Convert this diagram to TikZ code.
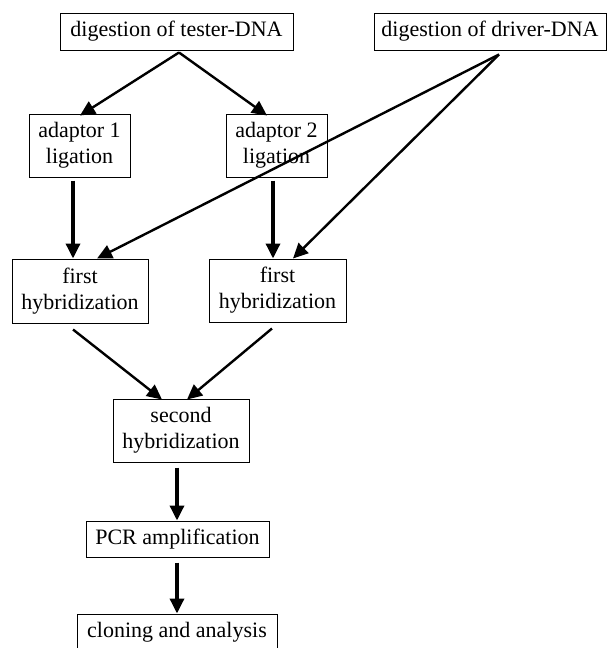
\documentclass[tikz,border=0pt]{standalone}
\usepackage{fontspec}
\setmainfont{Liberation Serif}
\usetikzlibrary{arrows.meta}
\begin{document}
\begin{tikzpicture}[x=1pt,y=-1pt,
  box/.style={draw=black,line width=1pt,inner sep=0pt,align=center,
    font=\fontsize{22}{26}\selectfont},
  arr/.style={line width=2.4pt,-{Triangle[length=15pt,width=14pt]}},
  varr/.style={line width=3.4pt,-{Triangle[length=15pt,width=14pt]}}]
\useasboundingbox (0,0) rectangle (607,648);
\clip (0,0) rectangle (607,648);
\node[box,minimum width=233pt,minimum height=37pt] (tester) at (176.5,31.5) {digestion of tester-DNA};
\node[box,minimum width=232pt,minimum height=37pt] (driver) at (490,31.5) {digestion of driver-DNA};
\node[box,minimum width=101pt,minimum height=63pt] (ad1) at (79.5,145.5) {adaptor 1\\ligation};
\node[box,minimum width=101pt,minimum height=63pt] (ad2) at (276.5,145.5) {adaptor 2\\ligation};
\node[box,minimum width=136pt,minimum height=64pt] (fh1) at (80,291) {first\\hybridization};
\node[box,minimum width=137pt,minimum height=63pt] (fh2) at (277.5,290.5) {first\\hybridization};
\node[box,minimum width=136pt,minimum height=63pt] (sh) at (181,430.5) {second\\hybridization};
\node[box,minimum width=183pt,minimum height=36pt] (pcr) at (177.5,539) {PCR amplification};
\node[box,minimum width=200pt,minimum height=37pt] (clone) at (177,632.5) {cloning and analysis};
\draw[arr] ([shift={(2.5,2)}]tester.south) -- ([shift={(0.5,2)}]ad1.north);
\draw[arr] ([shift={(2.5,2)}]tester.south) -- ([shift={(-9.5,2)}]ad2.north);
\draw[varr] ([shift={(-6.5,3)}]ad1.south) -- ([shift={(-7,0)}]fh1.north);
\draw[varr] ([shift={(-3.5,3)}]ad2.south) -- ([shift={(-4.5,0)}]fh2.north);
\draw[arr] ([shift={(9,4)}]driver.south) -- ([shift={(17,0)}]fh1.north);
\draw[arr] ([shift={(9,4)}]driver.south) -- ([shift={(15.5,0)}]fh2.north);
\draw[arr] ([shift={(-7,6)}]fh1.south) -- ([shift={(-19,1)}]sh.north);
\draw[arr] ([shift={(-5.5,6)}]fh2.south) -- ([shift={(6,1)}]sh.north);
\draw[varr] ([shift={(-4,5)}]sh.south) -- ([shift={(-0.5,0)}]pcr.north);
\draw[varr] ([shift={(-0.5,5)}]pcr.south) -- (clone.north);
\end{tikzpicture}
\end{document}
